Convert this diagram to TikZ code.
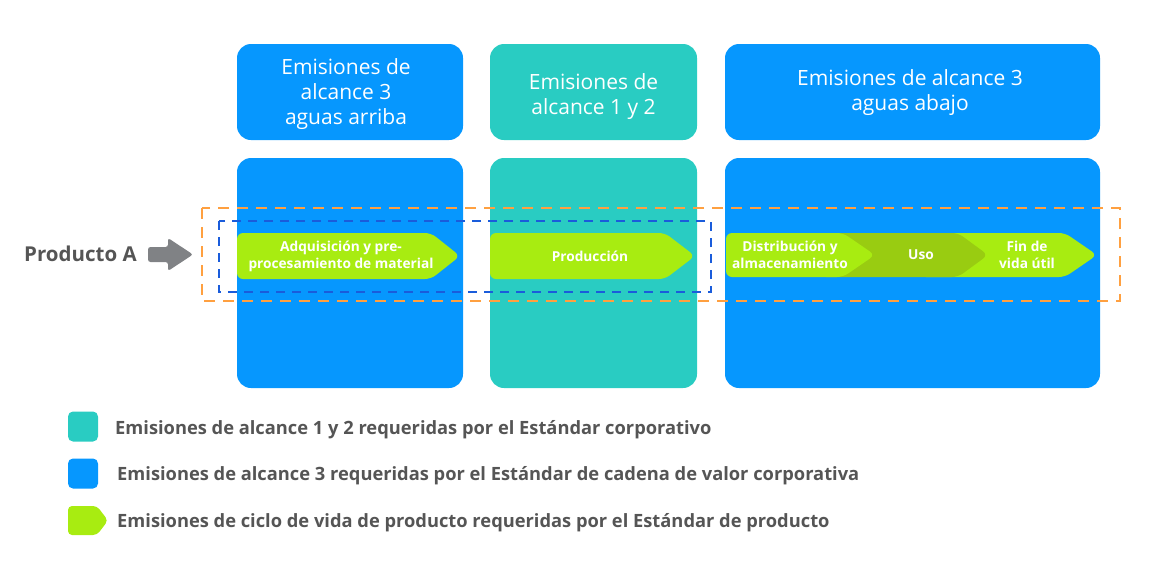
\documentclass[tikz,border=0pt]{standalone}
\usepackage{fontspec}
\setmainfont{Open Sans}
\definecolor{scopeblue}{HTML}{0697FE}
\definecolor{scopeteal}{HTML}{29CCC2}
\definecolor{lifegreen}{HTML}{A8EC11}
\definecolor{usegreen}{HTML}{99CC11}
\definecolor{labelgray}{HTML}{555555}
\definecolor{arrowgray}{HTML}{808285}
\definecolor{dashorange}{HTML}{FFA040}
\definecolor{dashblue}{HTML}{1A5CDB}
\begin{document}
\begin{tikzpicture}[x=1pt,y=-1pt]
        \tikzset{box/.style={rounded corners=14pt,inner sep=0pt},
                 head/.style={box,minimum height=96pt},
                 headtext/.style={text=white,align=center,inner sep=0pt,font=\fontsize{21}{25}\selectfont},
                 body/.style={box,minimum height=230pt},
                 stage/.style={text=white,align=center,inner sep=0pt,font=\bfseries\fontsize{13.7}{17}\selectfont},
                 chev/.style={rounded corners=6pt},
                 legtext/.style={text=labelgray,anchor=west,inner sep=0pt,font=\bfseries\fontsize{18.3}{22}\selectfont}};
        \useasboundingbox (0,0) rectangle (1155,584);
        % column heads
        \node[head,fill=scopeblue,minimum width=226pt] (uphead) at (350,92) {};
        \node[head,fill=scopeteal,minimum width=207pt] (ownhead) at (593.5,92) {};
        \node[head,fill=scopeblue,minimum width=375pt] (downhead) at (912.5,92) {};
        \node[headtext] (uptext) at (346,94) {Emisiones de\\alcance 3\\aguas arriba};
        \node[headtext] (owntext) at (593.5,97) {Emisiones de\\alcance 1 y 2};
        \node[headtext] (downtext) at (910,93) {Emisiones de alcance 3\\aguas abajo};
        % column bodies
        \node[body,fill=scopeblue,minimum width=226pt] (upbody) at (350,273) {};
        \node[body,fill=scopeteal,minimum width=207pt] (ownbody) at (593.5,273) {};
        \node[body,fill=scopeblue,minimum width=375pt] (downbody) at (912.5,273) {};
        % boundaries
        \draw[dashorange,line width=2pt,dash pattern=on 11pt off 8pt] (202,208) rectangle (1120,301);
        \draw[dashblue,line width=2pt,dash pattern=on 9pt off 7pt] (219,221) rectangle (711,292);
        % product arrow
        \node[text=labelgray,anchor=west,inner sep=0pt,font=\bfseries\fontsize{20.5}{24}\selectfont] (prod) at (24,254) {Producto A};
        \fill[arrowgray,rounded corners=2.5pt] (148,247) -- (168,247) -- (168,238) -- (193,254.5) -- (168,271) -- (168,262) -- (148,262) -- cycle;
        % life cycle stages
        \fill[lifegreen,chev] (237,233) -- (431,233) -- (460,256) -- (431,279) -- (237,279) -- cycle;
        \node[stage] (acq) at (341,256) {Adquisición y pre-\\procesamiento de material};
        \fill[lifegreen,chev] (490,233) -- (665,233) -- (695,256) -- (665,279) -- (490,279) -- cycle;
        \node[stage] (make) at (590,256) {Producción};
        \fill[lifegreen,chev] (920,233) -- (1065,233) -- (1097,255) -- (1065,277) -- (920,277) -- cycle;
        \fill[usegreen,chev] (820,233) -- (958,233) -- (988,255) -- (958,277) -- (820,277) -- cycle;
        \fill[lifegreen,chev] (726,233) -- (843,233) -- (875,255) -- (843,277) -- (726,277) -- cycle;
        \node[stage] (dist) at (790,255) {Distribución y\\almacenamiento};
        \node[stage] (use) at (921,255) {Uso};
        \node[stage] (eol) at (1027,255) {Fin de\\vida útil};
        % legend
        \node[fill=scopeteal,rounded corners=5pt,minimum size=30pt,inner sep=0pt] (legteal) at (83,426.5) {};
        \node[legtext] (tealtext) at (115,430) {Emisiones de alcance 1 y 2 requeridas por el Estándar corporativo};
        \node[fill=scopeblue,rounded corners=5pt,minimum size=30pt,inner sep=0pt] (legblue) at (83,473.5) {};
        \node[legtext] (bluetext) at (117,476) {Emisiones de alcance 3 requeridas por el Estándar de cadena de valor corporativa};
        \fill[lifegreen,rounded corners=4pt] (68,506) -- (97,506) -- (108,520.5) -- (97,535) -- (68,535) -- cycle;
        \node[legtext] (greentext) at (117,523) {Emisiones de ciclo de vida de producto requeridas por el Estándar de producto};
    \end{tikzpicture}
\end{document}
